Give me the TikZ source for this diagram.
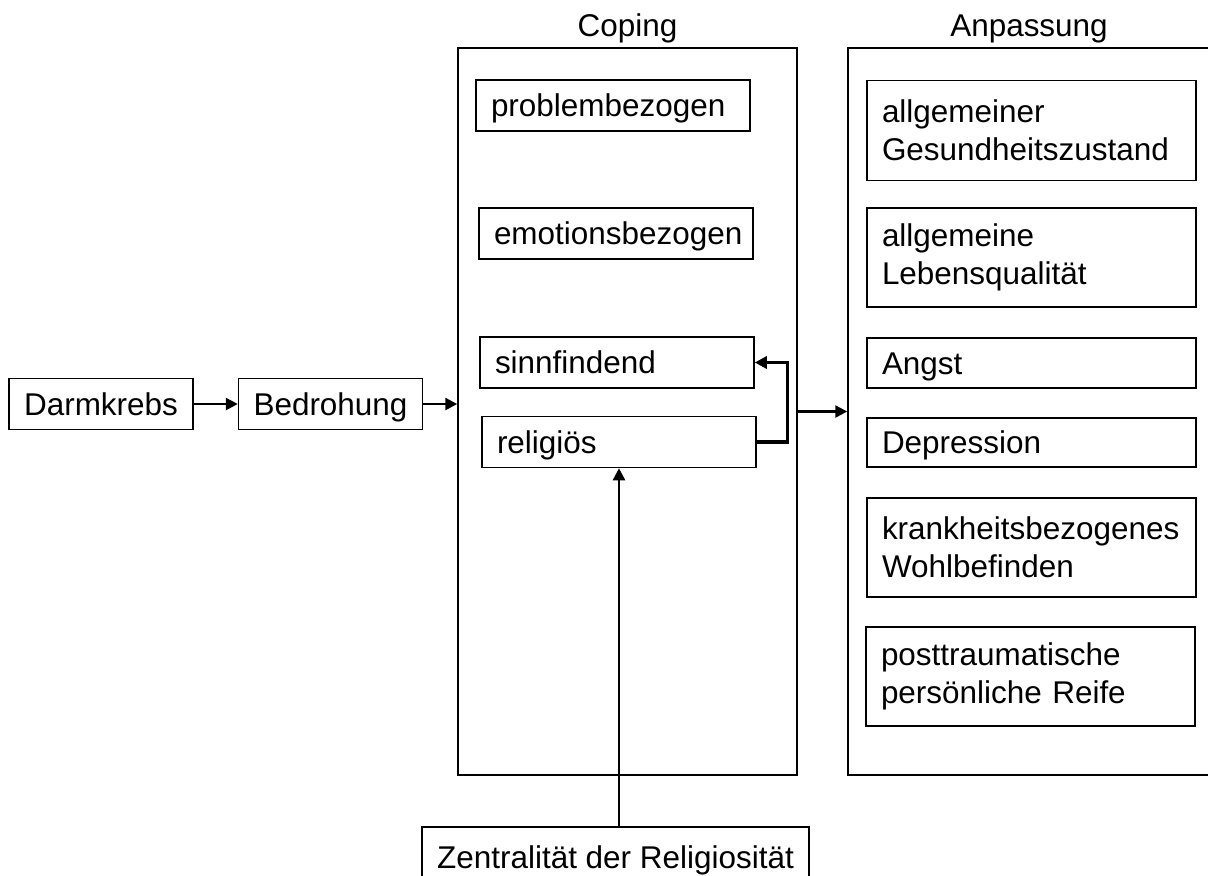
\documentclass[tikz,border=0pt]{standalone}
\usepackage{fontspec}
\setmainfont{Liberation Sans}
\usetikzlibrary{positioning,arrows.meta}

\begin{document}
\begin{tikzpicture}[x=0.2mm, y=-0.2mm,
    font=\fontsize{17.9}{21.5}\selectfont,
    >={Triangle[length=2.4mm, width=2.4mm]},
    box/.style={draw, line width=0.3mm, inner xsep=3mm, minimum height=10.2mm},
    sbox/.style={box, text height=12.8pt, text depth=0pt},
    cbox/.style={sbox, text width=48.8mm, align=left},
    abox/.style={box, text width=59.8mm, align=left, minimum height=19.8mm},
    aone/.style={sbox, text width=59.8mm, align=left, minimum height=10mm},
    panel/.style={draw, line width=0.3mm, minimum height=145.4mm},
    arr/.style={->, line width=0.5mm},
  ]
  \useasboundingbox (0,0) rectangle (1208,875);
  % the two big frames
  \node[name=coping, panel, minimum width=67.8mm] at (627.5, 411.5) {};
  \node[name=anp, panel, minimum width=72.4mm] at (1029, 411.5) {};
  \node[name=copingtitle, above=-0.4mm of coping] {Coping};
  \node[name=anptitle, above=-0.4mm of anp] {Anpassung};
  % left chain
  \node[name=darm, sbox] at (101, 404) {Darmkrebs};
  \node[name=bedr, sbox] at (330.5, 404) {Bedrohung};
  % coping styles
  \node[name=probl, cbox] at (613, 105.5) {problembezogen};
  \node[name=emo, cbox] at (616, 233.5) {emotionsbezogen};
  \node[name=sinn, cbox] at (617, 362.5) {sinnfindend};
  \node[name=relig, cbox] at (619, 442) {religiös};
  % adaptation outcomes
  \node[name=gesund, abox, minimum height=20mm] at (1031.5, 130.5) {allgemeiner\\Gesundheitszustand};
  \node[name=leben, abox] at (1031.5, 257.5) {allgemeine\\Lebensqualität};
  \node[name=angst, aone] at (1031.5, 363) {Angst};
  \node[name=depr, aone, minimum height=9.8mm] at (1031.5, 442.5) {Depression};
  \node[name=krank, abox] at (1031.5, 547.5) {krankheitsbezogenes\\Wohlbefinden};
  \node[name=post, abox] at (1030.5, 676.5) {posttraumatische\\persönliche Reife};
  % moderator
  \node[name=zentr, sbox, minimum width=73.4mm, minimum height=12mm] at (615.5, 857) {Zentralität der Religiosität};
  \draw[arr] (darm) -- (bedr);
  \draw[arr] (bedr.east) -- (bedr.east -| coping.west);
  \draw[arr] (coping.east) -- (anp.west);
  \draw[arr, line width=0.65mm] (relig.east) -- ++(31,0) |- (sinn.east);
  \draw[arr] (zentr.north -| relig.south) -- (relig.south);
\end{tikzpicture}
\end{document}
